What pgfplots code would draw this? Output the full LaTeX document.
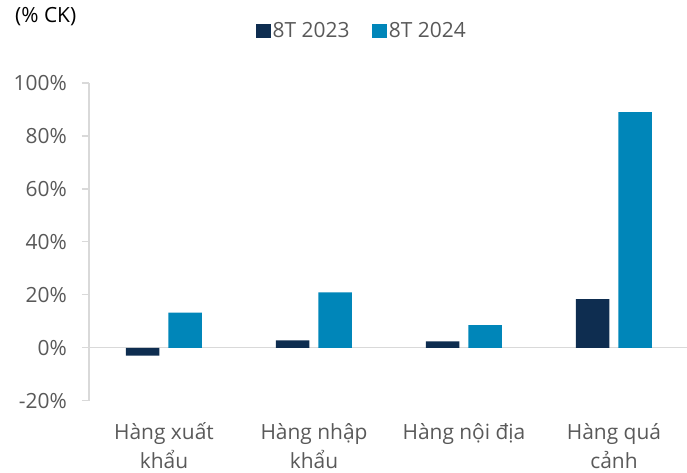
\documentclass[border=0pt]{standalone}
\usepackage{pgfplots}
\pgfplotsset{compat=1.18}
\usepackage{fontspec}
\setmainfont{Open Sans}
\definecolor{darkbar}{HTML}{0E2D50}
\definecolor{bluebar}{HTML}{0086B9}
\definecolor{txtgray}{HTML}{595959}
\definecolor{axgray}{HTML}{D9D9D9}
\newcommand{\chartfont}{\fontsize{21}{29}\selectfont}
\newcommand{\fs}{\rule{0pt}{20bp}}
\begin{document}
\begin{tikzpicture}
\useasboundingbox (-89bp,-72.3bp) rectangle (598bp,400.7bp);
\begin{axis}[
  scale only axis,
  width=598bp, height=317.7bp,
  xmin=-0.5, xmax=3.487,
  ymin=-20, ymax=100,
  ybar=9bp, bar width=33.5bp,
  axis y line*=left,
  axis x line*=bottom,
  x axis line style={draw=none},
  y axis line style={draw=axgray, line width=1.3bp, -},
  ytick={-20,0,20,40,60,80,100},
  yticklabels={-20\%,0\%,20\%,40\%,60\%,80\%,100\%},
  ytick style={draw=axgray, line width=1.3bp},
  tick align=outside,
  major tick length=7bp,
  xtick={0,1,2,3},
  xtick style={draw=none},
  xticklabels={{\fs Hàng xuất\\khẩu},{\fs Hàng nhập\\khẩu},{\fs Hàng nội địa},{\fs Hàng quá\\cảnh}},
  xticklabel style={align=center, font=\chartfont, text=txtgray, inner sep=0pt, yshift=-11.5bp},
  yticklabel style={font=\chartfont, text=txtgray, inner sep=0pt, xshift=-15bp},
  extra y ticks={0},
  extra y tick labels={},
  extra y tick style={grid=major, major grid style={draw=axgray, line width=1.3bp}, tick style={draw=none}},
  legend style={draw=none, fill=none, at={(0.4565,1.1637)}, anchor=center,
    legend columns=2, font=\chartfont, text=txtgray, inner sep=0pt,
    /tikz/every even column/.append style={column sep=21bp}},
  legend image code/.code={\fill[#1, draw=none] (0bp,-7.5bp) rectangle (14.5bp,7bp);},
  clip=false,
]
\addplot[fill=darkbar, draw=none] coordinates {(0,-3.0) (1,2.8) (2,2.4) (3,18.4)};
\addplot[fill=bluebar, draw=none] coordinates {(0,13.3) (1,20.9) (2,8.5) (3,89.0)};
\legend{8T 2023, 8T 2024}
\end{axis}
\node[anchor=west, inner sep=0pt, font=\chartfont, text=black] at (-74bp,383.7bp) {(\% CK)};
\end{tikzpicture}
\end{document}
